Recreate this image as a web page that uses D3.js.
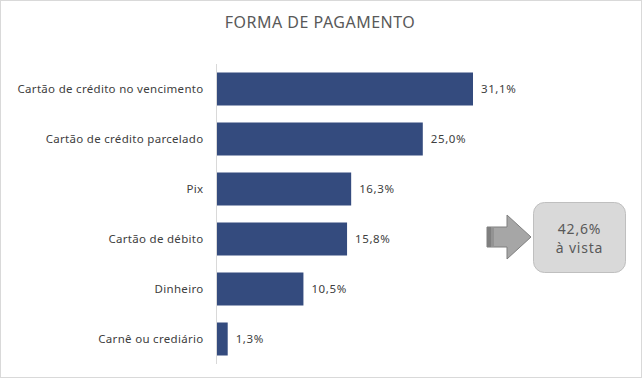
<!DOCTYPE html>
<html><head><meta charset="utf-8">
<script src="https://cdn.jsdelivr.net/npm/d3@7"></script>
<style>body{margin:0;background:#fff}svg{display:block}text{font-family:"Noto Sans",sans-serif}</style>
</head><body><svg id="c" width="643" height="379"></svg>
<script>
const categories = ["Cartão de crédito no vencimento","Cartão de crédito parcelado","Pix","Cartão de débito","Dinheiro","Carnê ou crediário"];
const values = [31.1, 25.0, 16.3, 15.8, 10.5, 1.3];
const title = "FORMA DE PAGAMENTO";
const calloutLines = ["42,6%", "à vista"];

const svg = d3.select("#c");
svg.append("rect").attr("x",0.5).attr("y",0.5).attr("width",641).attr("height",377)
  .attr("fill","#fff").attr("stroke","#d9d9d9");

svg.append("text").attr("x",320).attr("y",28).attr("text-anchor","middle")
  .attr("font-size",16).attr("letter-spacing",0.5).attr("fill","#595959").text(title);

const x = d3.scaleLinear().domain([0, 31.1]).range([217, 473]);
const y = d3.scaleBand().domain(categories).range([64, 364]).paddingInner(0.34).paddingOuter(0.17);
const fmt = v => d3.format(".1f")(v).replace(".", ",") + "%";

svg.selectAll("rect.bar").data(values).join("rect").attr("class","bar")
  .attr("x", x(0)).attr("y",(d,i)=>y(categories[i]))
  .attr("width", d=>x(d)-x(0)).attr("height", y.bandwidth()).attr("fill","#344b7e");

const yAxis = svg.append("g").attr("transform",`translate(${x(0)-0.5},0)`).call(d3.axisLeft(y).tickSize(0).tickPadding(13));
yAxis.select(".domain").attr("stroke","#d9d9d9").attr("d","M0,64V364");
yAxis.selectAll("text").attr("font-size",11.5).attr("letter-spacing",0.3).attr("fill","#404040").style("font-family","'Noto Sans',sans-serif");

svg.selectAll("text.val").data(values).join("text").attr("class","val")
  .attr("x", d=>x(d)+8).attr("y",(d,i)=>y(categories[i])+y.bandwidth()/2)
  .attr("dy","0.35em").attr("font-size",11.5).attr("letter-spacing",0.6).attr("fill","#404040").text(fmt);

// arrow
const ag = svg.append("g");
ag.append("path").attr("d","M487,227H507V215L531,237L507,259V247H487Z")
  .attr("fill","#a6a6a6").attr("stroke","#7f7f7f").attr("stroke-width",1);
ag.append("rect").attr("x",487).attr("y",227).attr("width",4).attr("height",20).attr("fill","#7f7f7f");
ag.append("rect").attr("x",491).attr("y",227).attr("width",3).attr("height",20).attr("fill","#939393");

svg.append("rect").attr("x",533.5).attr("y",202.5).attr("width",92).attr("height",70).attr("rx",11)
  .attr("fill","#d9d9d9").attr("stroke","#bfbfbf");
svg.selectAll("text.co").data(calloutLines).join("text").attr("class","co")
  .attr("x",579.5).attr("y",(d,i)=>234+i*19).attr("text-anchor","middle")
  .attr("font-size",14).attr("letter-spacing",0.8).attr("fill","#595959").text(d=>d);
</script></body></html>
